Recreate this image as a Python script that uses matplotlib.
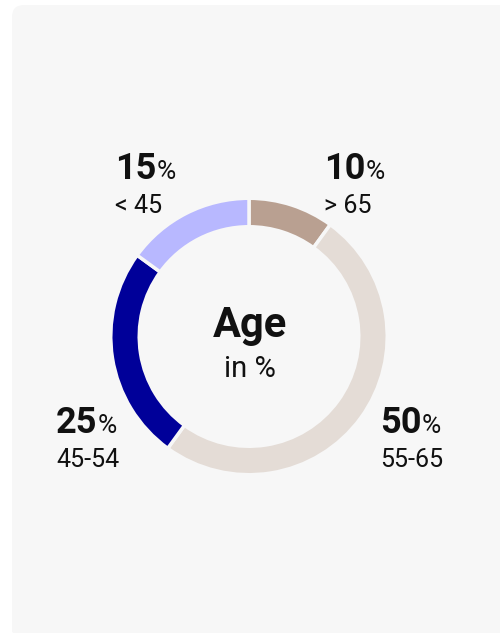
import matplotlib
matplotlib.use("Agg")
import matplotlib.pyplot as plt
from matplotlib.patches import FancyBboxPatch

plt.rcParams['font.family'] = ['Roboto', 'DejaVu Sans']

# Age distribution (clockwise from the top)
groups = ["> 65", "55-65", "45-54", "< 45"]
shares = [10, 50, 25, 15]
colors = ["#b9a091", "#e4dcd6", "#000099", "#b8b8ff"]

title = "Age"
subtitle = "in %"

W, H = 500, 634
fig = plt.figure(figsize=(W / 100, H / 100), dpi=100)
fig.patch.set_facecolor("white")
ax = fig.add_axes([0, 0, 1, 1])

def Y(y):
    return H - y

# donut ring (edge stroke trims ~1.7 px off each side, so pad radius/width)
card = "#f7f7f7"
lw = 2.5
trim = lw * 100 / 72 / 2
cx, cy, R, ring = 249, Y(336.5), 136.5, 25
ax.pie(shares, colors=colors, startangle=90, counterclock=False,
       center=(cx, cy), radius=R + trim, frame=True,
       wedgeprops=dict(width=ring + 2 * trim, edgecolor=card, linewidth=lw))
ax.set_xlim(0, W)
ax.set_ylim(0, H)
ax.set_aspect("auto")
ax.axis("off")

# card background
ax.add_patch(FancyBboxPatch((12, Y(633)), 520, 628,
                            boxstyle="round,pad=0,rounding_size=12",
                            facecolor=card, edgecolor="none", zorder=0))
ax.add_patch(FancyBboxPatch((12, Y(633)), 520, 300,
                            boxstyle="round,pad=0,rounding_size=2",
                            facecolor=card, edgecolor="none", zorder=0))

# centre caption
ax.text(cx + 1, Y(337), title, ha="center", va="baseline",
        fontsize=30, fontweight="bold", color="#111111")
ax.text(cx + 1, Y(377), subtitle, ha="center", va="baseline",
        fontsize=21, color="#111111")

# segment labels: (x, baseline of value, baseline of group)
label_pos = {
    "> 65": (324, 179, 213),
    "55-65": (380, 433, 467),
    "45-54": (56, 433, 467),
    "< 45": (115, 179, 213),
}

fig.canvas.draw()
renderer = fig.canvas.get_renderer()
inv = ax.transData.inverted()
for g, v in zip(groups, shares):
    x, yv, yg = label_pos[g]
    t = ax.text(x, Y(yv), f"{v}", ha="left", va="baseline",
                fontsize=26, fontweight="bold", color="#111111")
    bb = t.get_window_extent(renderer=renderer)
    x_end = inv.transform((bb.x1, bb.y0))[0]
    ax.text(x_end + 0.5, Y(yv), "%", ha="left", va="baseline",
            fontsize=19, color="#111111")
    ax.text(x, Y(yg), g, ha="left", va="baseline",
            fontsize=18, color="#111111")

fig.savefig("out.png", dpi=100, facecolor="white")
